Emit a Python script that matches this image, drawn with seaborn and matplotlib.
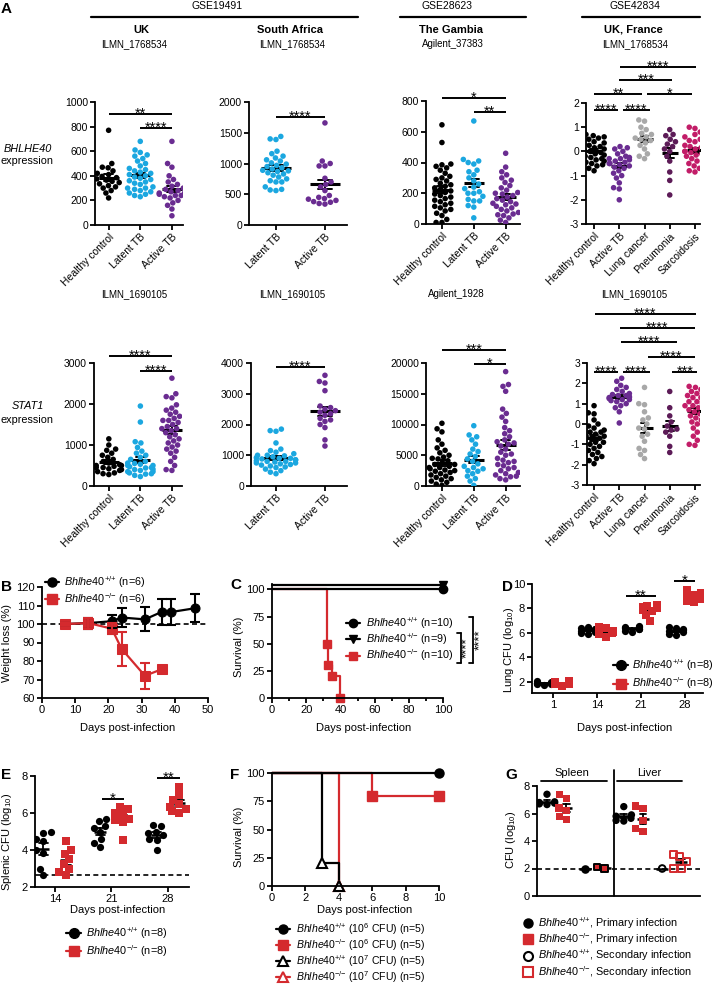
import warnings
import pandas as pd
import seaborn as sns
import matplotlib.pyplot as plt
from matplotlib.lines import Line2D
from matplotlib.transforms import offset_copy

warnings.filterwarnings('ignore')

sns.set_style('ticks')
plt.rcParams['font.family'] = ['Liberation Sans', 'DejaVu Sans']
plt.rcParams['mathtext.fontset'] = 'custom'
plt.rcParams['mathtext.rm'] = 'Liberation Sans'
plt.rcParams['mathtext.it'] = 'Liberation Sans:italic'
plt.rcParams['mathtext.bf'] = 'Liberation Sans:bold'
plt.rcParams['axes.unicode_minus'] = False
plt.rcParams['axes.edgecolor'] = 'black'
plt.rcParams['axes.linewidth'] = 1.3
plt.rcParams['xtick.color'] = 'black'
plt.rcParams['ytick.color'] = 'black'
plt.rcParams['text.color'] = 'black'

# ---- colours
BLACK = '#000000'
CYAN = '#1ba7e0'
PURPLE = '#6a2c91'
GRAY = '#a8a8a8'
PLUM = '#5c1b57'
MAGENTA = '#c21d68'
RED = '#d42a2e'

# ---- panel A, BHLHE40 (top row)
uk_b_hc = [770, 500, 470, 465, 440, 420, 410, 395, 385, 375, 365, 355, 345, 335, 320, 310, 300, 280, 260, 220]
uk_b_lt = [680, 610, 590, 570, 560, 540, 520, 500, 480, 460, 450, 440, 430, 420, 410, 400, 390, 380, 370,
           360, 350, 340, 330, 310, 300, 290, 270, 250, 230, 240, 260, 280, 300]
uk_b_at = [680, 500, 470, 400, 370, 350, 330, 315, 300, 290, 280, 270, 260, 250, 240, 230, 220, 200, 180,
           160, 130, 75, 260, 240]
sa_b_lt = [1440, 1400, 1390, 1200, 1160, 1120, 1090, 1060, 1040, 1010, 990, 970, 950, 930, 910, 890, 870,
           850, 830, 810, 780, 750, 720, 700, 620, 580, 570, 560, 700, 880]
sa_b_at = [1660, 1040, 1000, 960, 960, 760, 700, 660, 620, 560, 480, 450, 430, 400, 370, 340, 420, 350, 380]
gm_b_hc = [645, 530, 390, 385, 375, 365, 350, 330, 310, 300, 290, 280, 265, 255, 245, 235, 225, 215, 205,
           195, 185, 175, 165, 155, 145, 135, 125, 115, 105, 95, 85, 70, 55, 10, 10, 30]
gm_b_lt = [670, 420, 410, 400, 390, 350, 340, 320, 300, 280, 260, 240, 230, 210, 200, 180, 160, 150, 120,
           110, 40, 200, 150]
gm_b_at = [460, 370, 340, 320, 300, 285, 270, 250, 235, 220, 205, 195, 185, 175, 165, 155, 145, 135, 125,
           115, 105, 95, 85, 75, 65, 55, 40, 25, 10, 60, 130, 200]
ukf_b_hc = [0.75, 0.7, 0.65, 0.6, 0.55, 0.5, 0.45, 0.4, 0.35, 0.3, 0.25, 0.2, 0.15, 0.1, 0.05, 0.0, -0.05,
            -0.1, -0.15, -0.2, -0.25, -0.3, -0.35, -0.4, -0.45, -0.5, -0.55, -0.6, -0.7, -0.8]
ukf_b_at = [0.2, 0.15, 0.1, 0.0, -0.1, -0.2, -0.25, -0.3, -0.35, -0.4, -0.45, -0.5, -0.55, -0.6, -0.65,
            -0.7, -0.8, -0.9, -1.0, -1.1, -1.3, -1.5, -1.55, -2.0, -0.5, -0.3]
ukf_b_lc = [1.3, 1.25, 1.0, 0.9, 0.75, 0.6, 0.5, 0.45, 0.35, 0.25, 0.1, -0.1, -0.2, -0.3, 0.7, 0.55]
ukf_b_pn = [0.9, 0.7, 0.65, 0.5, 0.4, 0.3, 0.2, 0.1, 0.0, -0.2, -0.4, -0.85, -1.2, -1.8]
ukf_b_sa = [1.0, 0.95, 0.8, 0.7, 0.6, 0.5, 0.45, 0.4, 0.3, 0.25, 0.2, 0.15, 0.1, 0.05, 0.0, -0.05, -0.1,
            -0.15, -0.2, -0.3, -0.35, -0.4, -0.5, -0.6, -0.7, -0.8, -0.85, 0.0, -0.1]

# ---- panel A, STAT1 (bottom row)
uk_s_hc = [1150, 1000, 900, 870, 800, 750, 700, 650, 600, 560, 520, 500, 480, 450, 420, 400, 380, 350, 320,
           300, 280, 450, 500]
uk_s_lt = [1950, 1560, 1080, 1050, 940, 850, 800, 750, 700, 650, 600, 560, 530, 500, 470, 440, 410, 380,
           350, 320, 290, 260, 230, 400, 450, 500, 550, 350, 300]
uk_s_at = [2630, 2250, 2180, 2150, 1980, 1900, 1850, 1800, 1750, 1700, 1650, 1600, 1550, 1500, 1450, 1400,
           1350, 1300, 1250, 1200, 1150, 1100, 1050, 1000, 950, 900, 850, 800, 700, 600, 500, 400, 380,
           1600, 1400]
sa_s_lt = [1850, 1800, 1780, 1400, 1200, 1150, 1100, 1050, 1000, 980, 950, 920, 900, 880, 850, 820, 800,
           780, 750, 720, 700, 680, 650, 620, 600, 550, 500, 450, 400, 900, 850, 1000, 750, 800]
sa_s_at = [3600, 3400, 3350, 3100, 2600, 2550, 2500, 2450, 2400, 2300, 2200, 2150, 2100, 1900, 1500, 1300,
           2350, 2000]
gm_s_hc = [10200, 9300, 8800, 7500, 6800, 6200, 5800, 5400, 5000, 4700, 4400, 4100, 3800, 3500, 3200, 3000,
           2800, 2600, 2400, 2200, 2000, 1800, 1600, 1400, 1200, 1000, 800, 600, 300, 100, 2500, 3500,
           4500, 3000]
gm_s_lt = [9800, 8300, 8000, 7500, 6800, 6000, 5600, 5200, 4800, 4400, 4000, 3600, 3200, 2800, 2400, 2000,
           1600, 1200, 800, 100, 3000, 2500]
gm_s_at = [18600, 16500, 16200, 15400, 12500, 11800, 11200, 10500, 9500, 9000, 8500, 8000, 7500, 7000,
           6500, 6000, 5500, 5000, 4500, 4000, 3500, 3000, 2500, 2000, 1500, 1200, 6800, 5200, 3800, 2200,
           7200, 1800, 2800, 3300, 4200, 1000, 1600]
ukf_s_hc = [0.9, 0.55, 0.5, 0.2, 0.0, -0.1, -0.2, -0.3, -0.4, -0.5, -0.6, -0.7, -0.8, -0.9, -1.0, -1.1,
            -1.2, -1.3, -1.4, -1.5, -1.6, -1.7, -1.8, -1.95, -0.5, -0.6, -0.7, -0.9, -1.0, -0.3, -0.4]
ukf_s_at = [2.25, 2.1, 1.9, 1.8, 1.7, 1.6, 1.5, 1.45, 1.4, 1.35, 1.3, 1.25, 1.2, 1.15, 1.1, 1.0, 0.9, 0.8,
            0.6, 0.05, 1.3, 1.4, 1.2]
ukf_s_lc = [1.8, 1.0, 0.95, 0.6, 0.3, 0.0, -0.2, -0.25, -0.5, -0.85, -1.2, -1.3, -1.5, -1.7, 0.2, -0.6]
ukf_s_pn = [1.6, 0.8, 0.4, 0.1, -0.1, -0.25, -0.4, -0.6, -1.1, -1.4, -0.3]
ukf_s_sa = [1.85, 1.8, 1.7, 1.6, 1.5, 1.4, 1.3, 1.2, 1.1, 1.0, 0.9, 0.8, 0.7, 0.6, 0.5, 0.4, 0.3, 0.2, 0.1,
            0.0, -0.2, -0.4, -0.6, -0.8, -1.0, -1.05, 0.9, 1.1, 0.7, 1.3]

# ---- panel B, weight
b_days_wt = [7, 14, 21, 24, 31, 36, 39, 46]
b_wt_mean = [100, 100.5, 101.5, 103.5, 102.5, 106.5, 106.5, 108.5]
b_wt_err = [0.5, 3, 3.5, 5, 6.5, 7, 7, 7.5]
b_days_ko = [7, 14, 21, 24, 31, 36]
b_ko_mean = [100, 100.5, 97.5, 86.5, 72, 75.5]
b_ko_err = [0.5, 3, 3, 9, 7, 0]

# ---- panel C, survival
c_wt_days = [0, 100]
c_wt_surv = [100, 100]
c_het_days = [0, 100]
c_het_surv = [100, 100]
c_ko_days = [0, 32, 33, 35, 40]
c_ko_surv = [100, 50, 30, 20, 0]

# ---- panel D, lung CFU
d_days = ['1', '14', '21', '28']
d_wt = {'1': [2.05, 2.0, 1.95, 1.9, 1.9, 1.85, 1.8, 1.75],
        '14': [6.5, 6.4, 6.35, 6.3, 6.2, 6.1, 6.0, 5.9],
        '21': [6.6, 6.5, 6.45, 6.4, 6.35, 6.3, 6.2, 6.1],
        '28': [6.5, 6.4, 6.3, 6.25, 6.2, 6.1, 5.9, 5.8]}
d_ko = {'1': [2.1, 2.0, 1.95, 1.9, 1.85, 1.85, 1.8, 1.7],
        '14': [6.5, 6.4, 6.2, 6.1, 6.1, 6.0, 5.9, 5.7],
        '21': [8.3, 8.2, 8.1, 8.0, 7.9, 7.8, 7.5, 7.0],
        '28': [9.5, 9.4, 9.3, 9.1, 9.0, 8.8, 8.6, 8.5]}

# ---- panel E, splenic CFU
e_days = ['14', '21', '28']
e_wt = {'14': [4.95, 4.9, 4.6, 4.5, 4.0, 3.85, 3.0, 2.65],
        '21': [5.7, 5.55, 5.3, 5.2, 5.0, 4.6, 4.4, 4.15],
        '28': [5.35, 5.3, 5.0, 4.9, 4.8, 4.6, 4.55, 4.0]}
e_ko = {'14': [4.5, 4.0, 3.8, 3.5, 3.25, 3.0, 2.8, 2.65],
        '21': [6.3, 6.2, 6.0, 5.9, 5.7, 5.6, 5.5, 4.55],
        '28': [7.4, 7.0, 6.7, 6.5, 6.3, 6.2, 6.1, 6.0]}
e_limit = 2.65

# ---- panel F, survival high dose
f_wt6_days, f_wt6_surv = [0, 10], [100, 100]
f_ko6_days, f_ko6_surv = [0, 6, 10], [100, 80, 80]
f_wt7_days, f_wt7_surv = [0, 3, 4], [100, 20, 0]
f_ko7_days, f_ko7_surv = [0, 4], [100, 0]

# ---- panel G, rechallenge CFU
g_order = ['sp_wt_1', 'sp_ko_1', 'sp_wt_2', 'sp_ko_2', 'lv_wt_1', 'lv_ko_1', 'lv_wt_2', 'lv_ko_2']
g_values = {'sp_wt_1': [7.4, 6.85, 6.8, 6.75, 6.7, 6.65],
            'sp_ko_1': [7.4, 7.1, 6.4, 6.2, 5.8, 5.55],
            'sp_wt_2': [2.0],
            'sp_ko_2': [2.1, 2.0],
            'lv_wt_1': [6.5, 5.9, 5.8, 5.65, 5.5, 5.45],
            'lv_ko_1': [6.55, 6.35, 5.5, 4.9, 4.7],
            'lv_wt_2': [2.0],
            'lv_ko_2': [3.0, 2.85, 2.5, 2.0, 2.0]}
g_limit = 2.0

WT = r'$\mathit{Bhlhe40}^{{+}/{+}}$'
HET = r'$\mathit{Bhlhe40}^{{+}/{-}}$'
KO = r'$\mathit{Bhlhe40}^{{-}/{-}}$'

W, H = 712, 985
fig = plt.figure(figsize=(W / 100, H / 100), dpi=100)


def add_ax(x0, y0, x1, y1):
    return fig.add_axes([x0 / W, 1 - y1 / H, (x1 - x0) / W, (y1 - y0) / H])


def ftext(x, y, s, **kw):
    fig.text(x / W, 1 - y / H, s, **kw)


def fline(x0, y0, x1, y1, lw=1.5, **kw):
    fig.add_artist(Line2D([x0 / W, x1 / W], [1 - y0 / H, 1 - y1 / H], transform=fig.transFigure,
                          color='black', lw=lw, **kw))


def style_axis(ax, fs):
    sns.despine(ax=ax)
    ax.tick_params(labelsize=fs, width=1.3, length=3.5, pad=1.5)
    ax.set_xlabel('')
    ax.set_ylabel('')


def sig(ax, x1, x2, y, txt, fs=10.5):
    ax.plot([x1, x2], [y, y], color='black', lw=1.4, clip_on=False, solid_capstyle='butt')
    ax.annotate(txt, xy=((x1 + x2) / 2, y), xytext=(0, -fs * 0.24), textcoords='offset points',
                ha='center', va='baseline', fontsize=fs, annotation_clip=False)


def expression_panel(rect, groups, palette, ylim, yticks, xlim, sigs):
    ax = add_ax(*rect)
    order = list(groups)
    df = pd.DataFrame([(g, v) for g in order for v in groups[g]], columns=['group', 'value'])
    sns.swarmplot(data=df, x='group', y='value', hue='group', order=order, hue_order=order,
                  palette=palette, size=4.0, linewidth=0, legend=False, ax=ax)
    step_px = (rect[2] - rect[0]) / (xlim[1] - xlim[0])
    sns.pointplot(data=df, x='group', y='value', order=order, errorbar='se', color='black',
                  marker='_', markersize=step_px * 0.62 * 0.72, markeredgewidth=2.2,
                  linestyle='none', capsize=0.3, err_kws={'linewidth': 1.4}, ax=ax)
    ax.set_xlim(xlim)
    ax.set_ylim(ylim)
    ax.set_yticks(yticks)
    ax.set_xticks(range(len(order)), labels=order, rotation=45, ha='right', rotation_mode='anchor')
    style_axis(ax, 7.5)
    for x1, x2, y, txt in sigs:
        sig(ax, x1, x2, y, txt)
    return ax


def legend_at(ax, handles, labels, x, y, fs=7.8, spacing=0.1, hl=1.3, pad=0.5):
    ax.legend(handles, labels, loc='upper left', bbox_to_anchor=(x / W, 1 - y / H),
              bbox_transform=fig.transFigure, frameon=False, fontsize=fs, handlelength=hl,
              handletextpad=pad, labelspacing=spacing, borderpad=0, borderaxespad=0)


def grouped_panel(ax, days, wt, ko, size, bar_pt, shift=0.2):
    rows = []
    for i, d in enumerate(days):
        for g, src, side in (('WT', wt, -1), ('KO', ko, 1)):
            rows += [(i + side * shift, g, v) for v in src[d]]
    df = pd.DataFrame(rows, columns=['pos', 'geno', 'value'])
    for g, mk, col in (('WT', 'o', BLACK), ('KO', 's', RED)):
        sub = df.assign(value=df['value'].where(df['geno'] == g))
        sns.swarmplot(data=sub, x='pos', y='value', native_scale=True, color=col, marker=mk,
                      size=size, linewidth=0, ax=ax)
    sns.pointplot(data=df, x='pos', y='value', native_scale=True, errorbar='se', color='black',
                  marker='_', markersize=bar_pt, markeredgewidth=1.8, linestyle='none', capsize=0.4,
                  err_kws={'linewidth': 1.3}, ax=ax)
    ax.set_xticks(range(len(days)), labels=days)


tb3 = {'Healthy control': BLACK, 'Latent TB': CYAN, 'Active TB': PURPLE}
tb2 = {'Latent TB': CYAN, 'Active TB': PURPLE}
dis5 = {'Healthy control': BLACK, 'Active TB': PURPLE, 'Lung cancer': GRAY, 'Pneumonia': PLUM,
        'Sarcoidosis': MAGENTA}

# ---------------- panel A headers
ftext(1, 13, 'A', fontsize=11, fontweight='bold')
for cx, s in ((217, 'GSE19491'), (447, 'GSE28623'), (635, 'GSE42834')):
    ftext(cx, 9, s, fontsize=7.5, ha='center', va='baseline')
for x0, x1 in ((91, 358), (400, 526), (582, 700)):
    fline(x0, 17, x1, 17, lw=1.6)
for cx, s in ((141, 'UK'), (290, 'South Africa'), (451, 'The Gambia'), (633, 'UK, France')):
    ftext(cx, 33, s, fontsize=8, fontweight='bold', ha='center', va='baseline')
for cx, s in ((134, 'ILMN_1768534'), (292, 'ILMN_1768534'), (453, 'Agilent_37383'), (635, 'ILMN_1768534')):
    ftext(cx, 47, s, fontsize=7, ha='center', va='baseline')
for cx, s in ((134, 'ILMN_1690105'), (292, 'ILMN_1690105'), (456, 'Agilent_1928'), (634, 'ILMN_1690105')):
    ftext(cx, 297, s, fontsize=7, ha='center', va='baseline')
ftext(28, 152, 'BHLHE40', fontsize=7.8, style='italic', ha='center', va='baseline')
ftext(27, 164, 'expression', fontsize=7.8, ha='center', va='baseline')
ftext(28, 409, 'STAT1', fontsize=7.8, style='italic', ha='center', va='baseline')
ftext(27, 423, 'expression', fontsize=7.8, ha='center', va='baseline')

expression_panel((95, 102, 183, 225),
                 {'Healthy control': uk_b_hc, 'Latent TB': uk_b_lt, 'Active TB': uk_b_at}, tb3,
                 (0, 1000), range(0, 1001, 200), (-0.43, 2.35),
                 [(0, 2, 902, '**'), (1, 2, 789, '****')])
expression_panel((249, 102, 347, 225), {'Latent TB': sa_b_lt, 'Active TB': sa_b_at}, tb2,
                 (0, 2000), range(0, 2001, 500), (-0.55, 1.45), [(0, 1, 1756, '****')])
expression_panel((426, 101, 520, 224),
                 {'Healthy control': gm_b_hc, 'Latent TB': gm_b_lt, 'Active TB': gm_b_at}, tb3,
                 (0, 800), range(0, 801, 200), (-0.5, 2.45),
                 [(0, 2, 820, '*'), (1, 2, 728, '**')])
expression_panel((586, 103, 700, 224),
                 {'Healthy control': ukf_b_hc, 'Active TB': ukf_b_at, 'Lung cancer': ukf_b_lc,
                  'Pneumonia': ukf_b_pn, 'Sarcoidosis': ukf_b_sa}, dis5,
                 (-3, 2), range(-3, 3), (-0.32, 4.2),
                 [(1.03, 4.04, 3.49, '****'), (1, 3.1, 2.95, '***'), (0, 1.9, 2.37, '**'),
                  (2.1, 3.9, 2.37, '*'), (0, 0.95, 1.71, '****'), (1.15, 2.2, 1.71, '****')])

expression_panel((94, 363, 182, 486),
                 {'Healthy control': uk_s_hc, 'Latent TB': uk_s_lt, 'Active TB': uk_s_at}, tb3,
                 (0, 3000), range(0, 3001, 1000), (-0.47, 2.32),
                 [(0, 2, 3171, '****'), (1, 2, 2805, '****')])
expression_panel((251, 363, 347, 486), {'Latent TB': sa_s_lt, 'Active TB': sa_s_at}, tb2,
                 (0, 4000), range(0, 4001, 1000), (-0.51, 1.45), [(0, 1, 3870, '****')])
expression_panel((426, 363, 520, 486),
                 {'Healthy control': gm_s_hc, 'Latent TB': gm_s_lt, 'Active TB': gm_s_at}, tb3,
                 (0, 20000), range(0, 20001, 5000), (-0.5, 2.45),
                 [(0, 2, 22114, '***'), (1, 2, 19837, '*')])
expression_panel((587, 363, 700, 485),
                 {'Healthy control': ukf_s_hc, 'Active TB': ukf_s_at, 'Lung cancer': ukf_s_lc,
                  'Pneumonia': ukf_s_pn, 'Sarcoidosis': ukf_s_sa}, dis5,
                 (-3, 3), range(-3, 4), (-0.28, 4.2),
                 [(0.04, 4.04, 5.41, '****'), (1.03, 4.0, 4.72, '****'), (1.07, 3.29, 4.03, '****'),
                  (2.14, 4.0, 3.3, '****'), (0, 0.95, 2.56, '****'), (1.15, 2.2, 2.56, '****'),
                  (3.1, 4.1, 2.56, '***')])

# ---------------- panel B
ax = add_ax(42, 587, 208, 698)
ax.axhline(100, color='black', lw=1.2, ls=(0, (3, 2)))
sns.lineplot(x=b_days_wt, y=b_wt_mean, color=BLACK, lw=1.6, marker='o', markersize=6.5, mec=BLACK, ax=ax)
sns.lineplot(x=b_days_ko, y=b_ko_mean, color=RED, lw=1.6, marker='s', markersize=6.5, mec=RED, ax=ax)
ax.errorbar(b_days_wt, b_wt_mean, yerr=b_wt_err, fmt='none', ecolor=BLACK, elinewidth=1.5, capsize=3.5, capthick=1.5)
ax.errorbar(b_days_ko, b_ko_mean, yerr=b_ko_err, fmt='none', ecolor=RED, elinewidth=1.5, capsize=3.5, capthick=1.5)
ax.set_xlim(0, 50)
ax.set_ylim(60, 120)
ax.set_xticks(range(0, 51, 10))
ax.set_yticks(range(60, 121, 10))
style_axis(ax, 8)
legend_at(ax, [Line2D([], [], color=BLACK, marker='o', ms=6.5, lw=1.6),
               Line2D([], [], color=RED, marker='s', ms=6.5, lw=1.6)],
          [WT + ' (n=6)', KO + ' (n=6)'], 45, 574, spacing=0.15)
ftext(1, 591, 'B', fontsize=11, fontweight='bold')
ftext(7, 643, 'Weight loss (%)', fontsize=8, rotation=90, ha='center', va='center')
ftext(128, 728, 'Days post-infection', fontsize=8, ha='center', va='center')

# ---------------- panel C
ax = add_ax(272, 584, 443, 698)
ax.step(c_ko_days, c_ko_surv, where='post', color=RED, lw=1.6, clip_on=False)
ax.plot(c_ko_days[1:], c_ko_surv[1:], 's', color=RED, ms=6, clip_on=False)
het_tr = offset_copy(ax.transData, fig=fig, y=3, units='points')
ax.step(c_het_days, c_het_surv, where='post', color=BLACK, lw=1.6, clip_on=False, transform=het_tr)
ax.plot(c_het_days[-1:], c_het_surv[-1:], 'v', color=BLACK, ms=6, clip_on=False, transform=het_tr)
ax.step(c_wt_days, c_wt_surv, where='post', color=BLACK, lw=1.6, clip_on=False)
ax.plot(c_wt_days[-1:], c_wt_surv[-1:], 'o', color=BLACK, ms=6, clip_on=False)
ax.set_xlim(0, 100)
ax.set_ylim(0, 105)
ax.set_xticks(range(0, 101, 20))
ax.set_xticks(range(10, 100, 20), minor=True)
ax.set_yticks(range(0, 101, 25))
style_axis(ax, 8)
ax.tick_params(which='minor', length=2.5, width=1.3)
legend_at(ax, [Line2D([], [], color=BLACK, marker='o', ms=6, lw=1.6),
               Line2D([], [], color=BLACK, marker='v', ms=6, lw=1.6),
               Line2D([], [], color=RED, marker='s', ms=6, lw=1.6)],
          [WT + ' (n=10)', HET + ' (n=9)', KO + ' (n=10)'], 346, 615, spacing=0.05, pad=0.5)
fline(457, 633, 461, 633, lw=1.3)
fline(461, 633, 461, 663, lw=1.3)
fline(457, 663, 461, 663, lw=1.3)
ftext(467, 648, '****', fontsize=9.5, rotation=90, ha='center', va='center')
fline(469, 617, 473, 617, lw=1.3)
fline(473, 617, 473, 663, lw=1.3)
fline(469, 663, 473, 663, lw=1.3)
ftext(480, 640, '****', fontsize=9.5, rotation=90, ha='center', va='center')
ftext(230, 589, 'C', fontsize=11, fontweight='bold')
ftext(239, 647, 'Survival (%)', fontsize=8, rotation=90, ha='center', va='center')
ftext(364, 728, 'Days post-infection', fontsize=8, ha='center', va='center')

# ---------------- panel D
ax = add_ax(532, 584, 703, 693)
grouped_panel(ax, d_days, d_wt, d_ko, 5.2, 7.5)
ax.set_xlim(-0.48, 3.41)
ax.set_ylim(1.1, 10)
ax.set_yticks(range(2, 11, 2))
style_axis(ax, 8)
sig(ax, 1.66, 2.34, 9.02, '**', fs=11)
sig(ax, 2.75, 3.23, 10.24, '*', fs=11)
legend_at(ax, [Line2D([], [], color=BLACK, marker='o', ms=7, lw=1.6),
               Line2D([], [], color=RED, marker='s', ms=7, lw=1.6)],
          [WT + ' (n=8)', KO + ' (n=8)'], 613, 657, spacing=0.25, hl=1.4, pad=0.4)
ftext(502, 591, 'D', fontsize=11, fontweight='bold')
ftext(509, 650, r'Lung CFU (log$_{10}$)', fontsize=8, rotation=90, ha='center', va='center')
ftext(625, 728, 'Days post-infection', fontsize=8, ha='center', va='center')

# ---------------- panel E
ax = add_ax(35, 776, 189, 887)
ax.axhline(e_limit, color='black', lw=1.2, ls=(0, (3, 2)), zorder=0)
grouped_panel(ax, e_days, e_wt, e_ko, 5.2, 8)
ax.set_xlim(-0.35, 2.37)
ax.set_ylim(2, 8)
ax.set_yticks(range(2, 9, 2))
style_axis(ax, 8)
sig(ax, 0.83, 1.22, 6.76, '*', fs=11)
sig(ax, 1.81, 2.21, 7.89, '**', fs=11)
legend_at(ax, [Line2D([], [], color=BLACK, marker='o', ms=7, lw=1.6),
               Line2D([], [], color=RED, marker='s', ms=7, lw=1.6)],
          [WT + ' (n=8)', KO + ' (n=8)'], 66, 925, spacing=0.2, hl=1.4, pad=0.4)
ftext(1, 779, 'E', fontsize=11, fontweight='bold')
ftext(7, 842, r'Splenic CFU (log$_{10}$)', fontsize=8, rotation=90, ha='center', va='center')
ftext(118, 910, 'Days post-infection', fontsize=8, ha='center', va='center')

# ---------------- panel F
ax = add_ax(272, 773, 439, 886)
ax.step(f_ko7_days, f_ko7_surv, where='post', color=RED, lw=1.6, clip_on=False)
ax.step(f_ko6_days, f_ko6_surv, where='post', color=RED, lw=1.6, clip_on=False)
ax.plot(f_ko6_days[1:], f_ko6_surv[1:], 's', color=RED, ms=6.5, clip_on=False)
ax.step(f_wt7_days, f_wt7_surv, where='post', color=BLACK, lw=1.6, clip_on=False)
ax.step(f_wt6_days, f_wt6_surv, where='post', color=BLACK, lw=1.6, clip_on=False)
ax.plot(f_ko7_days[1:], f_ko7_surv[1:], '^', color=RED, mfc='white', mew=1.5, ms=6.5, clip_on=False)
ax.plot(f_wt7_days[1:], f_wt7_surv[1:], '^', color=BLACK, mfc='white', mew=1.5, ms=6.5, clip_on=False)
ax.plot(f_wt6_days[-1:], f_wt6_surv[-1:], 'o', color=BLACK, ms=6.5, clip_on=False)
ax.set_xlim(0, 10)
ax.set_ylim(0, 100)
ax.set_xticks(range(0, 11, 2))
ax.set_yticks(range(0, 101, 25))
style_axis(ax, 8)
legend_at(ax, [Line2D([], [], color=BLACK, marker='o', ms=6.5, lw=1.6),
               Line2D([], [], color=RED, marker='s', ms=6.5, lw=1.6),
               Line2D([], [], color=BLACK, marker='^', mfc='white', mew=1.5, ms=6.5, lw=1.6),
               Line2D([], [], color=RED, marker='^', mfc='white', mew=1.5, ms=6.5, lw=1.6)],
          [WT + r' (10$^6$ CFU) (n=5)', KO + r' (10$^6$ CFU) (n=5)',
           WT + r' (10$^7$ CFU) (n=5)', KO + r' (10$^7$ CFU) (n=5)'],
          276, 921, fs=7.6, spacing=0.02, hl=1.3, pad=0.6)
ftext(230, 779, 'F', fontsize=11, fontweight='bold')
ftext(239, 837, 'Survival (%)', fontsize=8, rotation=90, ha='center', va='center')
ftext(365, 910, 'Days post-infection', fontsize=8, ha='center', va='center')

# ---------------- panel G
ax = add_ax(537, 786, 700, 896)
ax.axhline(g_limit, color='black', lw=1.2, ls=(0, (3, 2)), zorder=0)
gdf = pd.DataFrame([(k, v) for k in g_order for v in g_values[k]], columns=['grp', 'value'])
g_pal = {k: (RED if '_ko_' in k else BLACK) for k in g_order}
for tag, mk, hollow in (('_wt_1', 'o', False), ('_ko_1', 's', False), ('_wt_2', 'o', True), ('_ko_2', 's', True)):
    sub = gdf[gdf.grp.str.endswith(tag)]
    sns.swarmplot(data=sub, x='grp', y='value', hue='grp', order=g_order, hue_order=g_order, palette=g_pal,
                  marker=mk, size=5.3 if not hollow else 4.8, linewidth=1.4 if hollow else 0,
                  legend=False, ax=ax)
    if hollow:
        for coll in ax.collections[-2:]:
            if len(coll.get_offsets()):
                coll.set_edgecolor(coll.get_facecolor())
                coll.set_facecolor('none')
sns.pointplot(data=gdf, x='grp', y='value', order=g_order, errorbar='se', color='black', marker='_',
              markersize=9, markeredgewidth=1.8, linestyle='none', capsize=0.35,
              err_kws={'linewidth': 1.3}, ax=ax)
ax.set_xlim(-0.52, 7.97)
ax.set_ylim(0, 8)
ax.set_yticks(range(0, 9, 2))
ax.set_xticks([])
style_axis(ax, 8)
ax.plot([3.5, 3.5], [0, 9.2], color='black', lw=1.3, clip_on=False)
ax.plot([-0.3, 3.1], [8.36, 8.36], color='black', lw=1.3, clip_on=False)
ax.plot([3.65, 7.03], [8.36, 8.36], color='black', lw=1.3, clip_on=False)
ax.text(1.3, 8.75, 'Spleen', fontsize=8, ha='center', va='baseline')
ax.text(5.35, 8.75, 'Liver', fontsize=8, ha='center', va='baseline')
legend_at(ax, [Line2D([], [], color=BLACK, marker='o', ms=6.5, lw=0),
               Line2D([], [], color=RED, marker='s', ms=6.5, lw=0),
               Line2D([], [], color=BLACK, marker='o', mfc='none', mew=1.5, ms=6.5, lw=0),
               Line2D([], [], color=RED, marker='s', mfc='none', mew=1.5, ms=6.5, lw=0)],
          [WT + ', Primary infection', KO + ', Primary infection',
           WT + ', Secondary infection', KO + ', Secondary infection'],
          524, 915, spacing=0.05, hl=0.8, pad=0.5)
ftext(505, 779, 'G', fontsize=11, fontweight='bold')
ftext(511, 840, r'CFU (log$_{10}$)', fontsize=8, rotation=90, ha='center', va='center')

fig.savefig('out.png', dpi=100)
